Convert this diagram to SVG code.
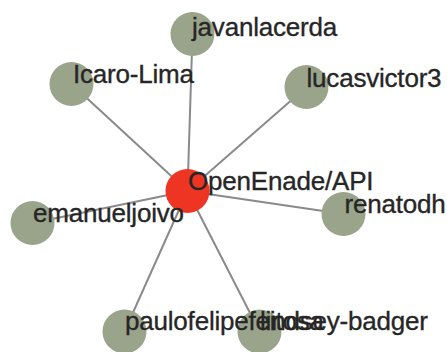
<svg xmlns="http://www.w3.org/2000/svg" width="447" height="352" viewBox="0 0 447 352">
  <style>
    .link { stroke: #8a8a8a; stroke-width: 2; }
    .node circle { fill: #9aa48b; }
    .node.root circle { fill: #ee3524; }
    .node text { font-family: "Liberation Sans", Arial, Helvetica, sans-serif; font-size: 26px; fill: #262626; stroke: #262626; stroke-width: 0.35px; letter-spacing: -0.2px; }
  </style>
  <rect width="447" height="352" fill="#ffffff"/>

  <!-- connectors: every repository contributor is linked to the repo hub -->
  <g id="links">
    <line class="link" x1="187.5" y1="191" x2="192.5" y2="34"/>
    <line class="link" x1="187.5" y1="191" x2="71.5" y2="84"/>
    <line class="link" x1="187.5" y1="191" x2="306.5" y2="87"/>
    <line class="link" x1="187.5" y1="191" x2="343.5" y2="214"/>
    <line class="link" x1="187.5" y1="191" x2="32.5" y2="223"/>
    <line class="link" x1="187.5" y1="191" x2="124.5" y2="331.5"/>
    <line class="link" x1="187.5" y1="191" x2="259.5" y2="331.5"/>
  </g>

  <g id="node-javanlacerda" class="node">
    <circle cx="192.5" cy="34" r="22"/>
    <text x="192" y="36">javanlacerda</text>
  </g>
  <g id="node-icaro-lima" class="node">
    <circle cx="71.5" cy="84" r="22"/>
    <text x="73" y="83">Icaro-Lima</text>
  </g>
  <g id="node-lucasvictor3" class="node">
    <circle cx="306.5" cy="87" r="22"/>
    <text x="306.5" y="87">lucasvictor3</text>
  </g>
  <g id="node-renatodh" class="node">
    <circle cx="343.5" cy="214" r="22"/>
    <text x="344.5" y="213">renatodh</text>
  </g>
  <g id="node-openenade-api" class="node root">
    <circle cx="187.5" cy="191" r="22"/>
    <text x="188" y="190">OpenEnade/API</text>
  </g>
  <g id="node-emanueljoivo" class="node">
    <circle cx="32.5" cy="223" r="22"/>
    <text x="33" y="222">emanueljoivo</text>
  </g>
  <g id="node-lindsey-badger" class="node">
    <circle cx="259.5" cy="331.5" r="22"/>
    <text x="260" y="330">lindsey-badger</text>
  </g>
  <g id="node-paulofelipefeitosa" class="node">
    <circle cx="124.5" cy="331.5" r="22"/>
    <text x="125" y="330">paulofelipefeitosa</text>
  </g>
</svg>
